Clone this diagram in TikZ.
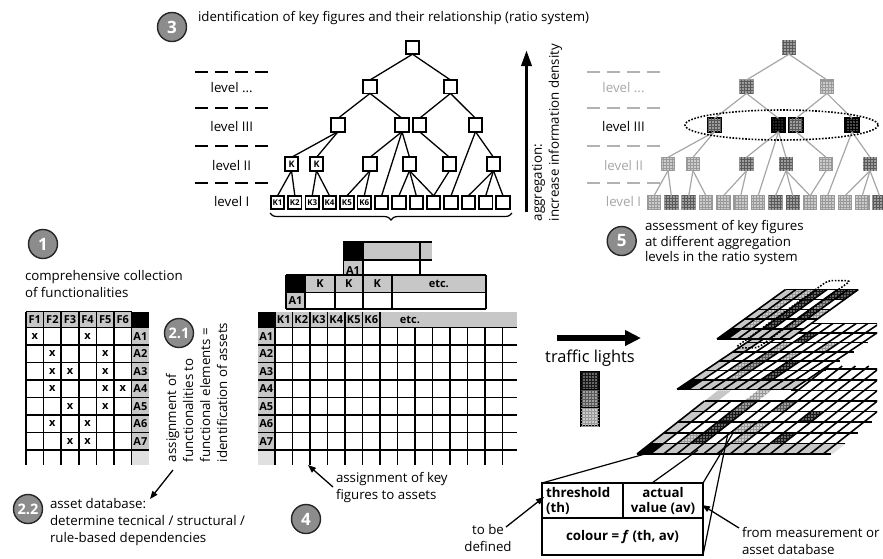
\documentclass[tikz,border=0pt]{standalone}
\usepackage{fontspec}
\setmainfont{Open Sans}
\usetikzlibrary{arrows.meta,patterns,decorations.pathreplacing}
\newcommand\gcell[3]{\fill[#3] (#1,#2) -- ++(1,0) -- ++(0,1) -- ++(-1,0) -- cycle;}
\begin{document}
\begin{tikzpicture}[x=1pt,y=-1pt,
  every node/.style={inner sep=0pt,outer sep=0pt},
  txt/.style={font=\fontsize{13.3}{17}\selectfont},
  numc/.style={circle,draw=black!85,line width=1.4pt,fill=black!45,minimum size=29pt,text=white,font=\fontsize{17}{17}\selectfont\bfseries},
  numcs/.style={numc,font=\fontsize{14.5}{14.5}\selectfont\bfseries},
  cf/.style={font=\fontsize{11}{11}\selectfont\bfseries},
  hdr/.style={fill=black!22},
  hdl/.style={fill=black!12},
  gl/.style={line width=1.6pt},
  tb/.style={draw=black,fill=white,line width=1.8pt,minimum size=13.4pt,font=\fontsize{8}{8}\selectfont\bfseries},
  te/.style={line width=1.3pt},
  rn/.style={draw=black!40,line width=1.2pt,minimum size=13.4pt},
  rk/.style={draw=black,line width=1.8pt,minimum size=13.4pt},
  re/.style={line width=1.2pt,draw=black!35},
  lvl/.style={line width=2pt,dash pattern=on 13pt off 7pt},
  lvg/.style={lvl,draw=black!30},
  arr/.style={line width=1.3pt,-{Triangle[length=8pt,width=6pt]}},
  dk/.style={fill=black!60,postaction={pattern=grid,pattern color=black!90}},
  md/.style={fill=black!38,postaction={pattern=grid,pattern color=black!65}},
  lt/.style={fill=black!20,postaction={pattern=grid,pattern color=black!40}},
  bl/.style={fill=black},
]
\useasboundingbox (0,0) rectangle (883,558);
\clip (0,0) rectangle (883,558);

% ---------------- title and left tree ----------------
\node[numc] (c3) at (172,27) {3};
\node[txt,anchor=base west] (title) at (198,21) {identification of key figures and their relationship (ratio system)};

\foreach \y in {71.7,107.7,145.7,182.7} {
  \draw[lvl] (195,\y) -- (270,\y);
  \draw[lvg] (587,\y) -- (662,\y);
}
\node[txt] (la4) at (231.7,88) {level ...};
\node[txt] (la3) at (231.7,126.5) {level III};
\node[txt] (la2) at (231.7,165.5) {level II};
\node[txt] (la1) at (231.7,202) {level I};

\node[tb] (aR) at (412.5,47.5) {};
\node[tb] (a4-0) at (370,86.7) {};
\node[tb] (a4-1) at (450.5,86.7) {};
\node[tb] (a3-0) at (338,125) {};
\node[tb] (a3-1) at (402,125) {};
\node[tb] (a3-2) at (419.5,125) {};
\node[tb] (a3-3) at (475.5,125) {};
\node[tb,font=\fontsize{9}{9}\selectfont\bfseries] (a2-0) at (291.5,164) {K};
\node[tb,font=\fontsize{9}{9}\selectfont\bfseries] (a2-1) at (316.5,164) {K};
\node[tb] (a2-2) at (370,164) {};
\node[tb] (a2-3) at (409.5,164) {};
\node[tb] (a2-4) at (449.5,164) {};
\node[tb] (a2-5) at (493.5,164) {};
\foreach \i [evaluate=\i as \j using int(\i+1)] in {0,...,5}
  \node[tb] (a1-\i) at ({277.5+17.35*\i},202.5) {K\j};
\foreach \i in {6,...,13}
  \node[tb] (a1-\i) at ({277.5+17.35*\i},202.5) {};
\foreach \p/\c in {aR/a4-0,aR/a4-1,a4-0/a3-0,a4-0/a3-1,a4-1/a3-2,a4-1/a3-3,
  a3-0/a2-0,a3-0/a2-1,a3-1/a2-2,a3-1/a1-6,a3-1/a2-3,a3-2/a2-4,a3-3/a1-10,a3-3/a2-5,
  a2-0/a1-0,a2-0/a1-1,a2-1/a1-2,a2-1/a1-3,a2-2/a1-4,a2-2/a1-5,a2-3/a1-7,a2-3/a1-8,a2-3/a1-9,
  a2-4/a1-9,a2-5/a1-11,a2-5/a1-12,a2-5/a1-13}
  \draw[te] (\p.south) -- (\c.north);

\draw[decorate,decoration={brace,mirror,amplitude=7pt},line width=1.2pt] (270,213) -- (512,213);

\coordinate (ag1) at (526.5,212);
\coordinate (ag2) at (526.5,50);
\draw[line width=3.5pt,-{Triangle[length=16pt,width=10pt]}] (ag1) -- (ag2);
\node[txt,rotate=90,anchor=north west,align=left] (agt) at (532,221) {aggregation:\\increase information density};

% ---------------- right tree ----------------
\node[txt,text=black!35] (lb4) at (623.5,88) {level ...};
\node[txt] (lb3) at (623.5,126.5) {level III};
\node[txt,text=black!35] (lb2) at (623.5,165.5) {level II};
\node[txt,text=black!35] (lb1) at (623.5,202) {level I};

\node[rn,md] (bR) at (789,47.5) {};
\node[rn,md] (b4-0) at (746.5,86.7) {};
\node[rn,lt] (b4-1) at (827,86.7) {};
\node[rk,md] (b3-0) at (714.5,125) {};
\node[rk,fill=black!85,postaction={pattern=grid,pattern color=black}] (b3-1) at (778.5,125) {};
\node[rk,md] (b3-2) at (796,125) {};
\node[rk,fill=black!70,postaction={pattern=grid,pattern color=black}] (b3-3) at (852,125) {};
\node[rn,lt] (b2-0) at (668,164) {};
\node[rn,lt] (b2-1) at (693,164) {};
\node[rn,md] (b2-2) at (746.5,164) {};
\node[rn,md] (b2-3) at (786,164) {};
\node[rn,lt] (b2-4) at (826,164) {};
\node[rn,md] (b2-5) at (870,164) {};
\foreach \i/\s in {0/lt,1/md,2/md,3/lt,4/lt,5/lt,6/lt,7/md,8/md,9/lt,10/lt,11/lt,12/lt,13/md}
  \node[rn,\s] (b1-\i) at ({654+17.35*\i},202.5) {};
\foreach \p/\c in {bR/b4-0,bR/b4-1,b4-0/b3-0,b4-0/b3-1,b4-1/b3-2,b4-1/b3-3,
  b3-0/b2-0,b3-0/b2-1,b3-1/b2-2,b3-1/b1-6,b3-1/b2-3,b3-2/b2-4,b3-3/b1-10,b3-3/b2-5,
  b2-0/b1-0,b2-0/b1-1,b2-1/b1-2,b2-1/b1-3,b2-2/b1-4,b2-2/b1-5,b2-3/b1-7,b2-3/b1-8,b2-3/b1-9,
  b2-4/b1-9,b2-5/b1-11,b2-5/b1-12,b2-5/b1-13}
  \draw[re] (\p.south) -- (\c.north);
\draw[line width=1.6pt,dash pattern=on 1.6pt off 1.6pt] (781.5,125) ellipse [x radius=96.5,y radius=15];

\node[numc] (c5) at (621.7,241) {5};
\node[txt,anchor=west,align=left,font=\fontsize{13.3}{15.5}\selectfont] (t5) at (645,243) {assessment of key figures\\at different aggregation\\levels in the ratio system};

% ---------------- left matrix ----------------
\node[numc] (c1) at (43,244) {1};
\node[txt,anchor=north west,align=left] (t1) at (25,270) {comprehensive collection\\of functionalities};

\fill[hdr] (26,311.5) rectangle (131.6,327.5);
\fill[bl] (131.6,311.5) rectangle (149.2,327.5);
\fill[hdr] (131.6,327.5) rectangle (149.2,450);
\fill[hdl] (131.6,450) rectangle (149.2,465);
\foreach \r in {0,...,7} \draw[gl] (26,{327.5+17.5*\r}) -- (149.2,{327.5+17.5*\r});
\draw[gl] (26,311.5) -- (131.6,311.5);
\foreach \k in {0,...,6} \draw[gl] ({26+17.6*\k},311.5) -- ({26+17.6*\k},465);
\foreach \i in {1,...,6} \node[cf] at ({26+17.6*(\i-0.5)},319.5) {F\i};
\foreach \r in {1,...,7} \node[cf] at (140.4,{327.5+17.5*(\r-0.5)}) {A\r};
\foreach \r/\c in {1/1,1/4,2/2,2/5,3/2,3/3,3/5,4/2,4/5,4/6,5/3,5/5,6/2,6/4,7/3,7/4}
  \node[cf] at ({26+17.6*(\c-0.5)},{327.5+17.5*(\r-0.5)}) {x};

\node[numcs] (c21) at (179,333) {2.1};
\node[txt,rotate=90,anchor=north west,align=left] (t21) at (166,462) {assignment of\\functionalities to\\functional elements =\\identification of assets};
\coordinate (a21s) at (173,470);
\coordinate (a21e) at (150,499);
\draw[arr] (a21s) -- (a21e);

\node[numcs] (c22) at (28,509) {2.2};
\node[txt,anchor=north west,align=left] (t22) at (50,498) {asset database:\\determine tecnical / structural /\\rule-based dependencies};

% ---------------- middle matrix ----------------
\fill[bl] (343.3,241.7) rectangle (362.7,260);
\fill[hdr] (362.7,241.7) rectangle (432,260);
\fill[hdr] (343.3,260) rectangle (362.7,275);
\node[cf,anchor=base] at (353,274.5) {A1};
\draw[gl] (343.3,241.7) -- (432,241.7);
\draw[gl] (343.3,260) -- (432,260);
\draw[gl] (362.7,241.7) -- (362.7,275);
\draw[gl] (420,241.7) -- (420,275);
\draw[gl] (343.3,241.7) -- (343.3,275);

\fill[white] (286,275) rectangle (486,309);
\fill[bl] (286,275) rectangle (305,292.3);
\fill[hdr] (305,275) rectangle (486,292.3);
\fill[hdr] (286,292.3) rectangle (305,309);
\foreach \y in {275,292.3,309} \draw[gl] (286,\y) -- (486,\y);
\foreach \x in {286,305,335,362.7,391.7,486} \draw[gl] (\x,275) -- (\x,309);
\node[cf] at (320,283.6) {K};
\node[cf] at (348.8,283.6) {K};
\node[cf] at (377.2,283.6) {K};
\node[cf] at (438.8,283.6) {etc.};
\node[cf] at (295.5,300.6) {A1};

\fill[bl] (257.5,311.5) rectangle (275,327.5);
\fill[hdr] (275,311.5) rectangle (517,327.5);
\fill[hdr] (257.5,327.5) rectangle (275,450);
\fill[hdl] (257.5,450) rectangle (275,465);
\foreach \r in {0,...,7} \draw[gl] (257.5,{327.5+17.5*\r}) -- (517,{327.5+17.5*\r});
\foreach \k in {0,...,6} \draw[gl] ({275+17.5*\k},311.5) -- ({275+17.5*\k},465);
\foreach \k in {7,...,13} \draw[gl] ({275+17.5*\k},327.5) -- ({275+17.5*\k},465);
\foreach \i in {1,...,6} \node[cf] at ({275+17.5*(\i-0.5)},319.5) {K\i};
\node[cf] at (410,319.5) {etc.};
\foreach \r in {1,...,7} \node[cf] at (266.25,{327.5+17.5*(\r-0.5)}) {A\r};

\node[numc] (c4) at (306,519) {4};
\node[txt,anchor=north west,align=left] (t4) at (336,472) {assignment of key\\figures to assets};
\coordinate (a4s) at (333,487);
\coordinate (a4e) at (308,465);
\draw[arr] (a4s) -- (a4e);

% ---------------- traffic lights ----------------
\coordinate (tl1) at (557,338);
\coordinate (tl2) at (641,338);
\draw[line width=6pt,-{Triangle[length=16pt,width=15pt]}] (tl1) -- (tl2);
\node[font=\fontsize{16.4}{16.4}\selectfont] (tlt) at (590,358) {traffic lights};
\draw[line width=1.5pt,dk] (581,372) rectangle (599,390);
\draw[line width=1.5pt,md] (581,390) rectangle (599,408);
\draw[line width=1.5pt,lt] (581,408) rectangle (599,426);

% ---------------- stacked grids ----------------
\begin{scope}
\clip (0,0) rectangle (877,558);
\begin{scope}[shift={(637,454)},x={(13.3pt,0pt)},y={(13.5pt,10.6pt)}]
  \gcell{0}{0}{bl}
  \foreach \c in {1,...,13} {\gcell{\c}{0}{hdr}}
  \fill[hdl] (14,0) -- (14.7,0) -- (14.7,1) -- (14,1) -- cycle;
  \foreach \r in {1,...,5} {\gcell{0}{\r}{hdr}}
  \foreach \c/\r/\s in {3/1/dk,3/2/dk,3/3/dk,3/4/md,3/5/lt,2/1/lt,6/1/lt,6/2/lt,6/4/md,9/1/dk,9/3/dk,5/2/lt} {\gcell{\c}{\r}{\s}}
  \foreach \r in {0,...,5} \draw[gl] (0,\r) -- (14.6,\r);
  \foreach \c in {0,...,14} \draw[gl] (\c,0) -- (\c,5);
  \foreach \r in {6,7,8} \draw[gl] (5.5,\r) -- (14.6,\r);
  \foreach \c in {6,...,14} \draw[gl] (\c,5) -- (\c,8.3);
\end{scope}
\begin{scope}[shift={(677,389.3)},x={(11.6pt,0pt)},y={(14pt,9.4pt)}]
  \fill[white] (0,0) -- (10,0) -- (10,7) -- (0,7) -- cycle;
  \gcell{0}{0}{bl}
  \foreach \c in {1,...,9} {\gcell{\c}{0}{hdr}}
  \foreach \r in {1,...,5} {\gcell{0}{\r}{hdr}}
  \foreach \c/\r/\s in {3/1/lt,3/2/md,3/3/md,3/4/lt,4/5/dk,2/2/lt,6/1/dk,6/2/dk,7/4/lt,5/3/lt} {\gcell{\c}{\r}{\s}}
  \foreach \r in {0,...,7} \draw[gl] (0,\r) -- (10.4,\r);
  \foreach \c in {0,...,10} \draw[gl] (\c,0) -- (\c,7);
\end{scope}
\begin{scope}[shift={(717,339)},x={(10.4pt,0pt)},y={(13.7pt,9.9pt)}]
  \fill[white] (0,0) -- (7,0) -- (7,5) -- (0,5) -- cycle;
  \gcell{0}{0}{bl}
  \foreach \c in {1,...,6} {\gcell{\c}{0}{hdr}}
  \foreach \r in {1,...,4} {\gcell{0}{\r}{hdr}}
  \foreach \c/\r/\s in {1/1/lt,1/2/lt,1/3/lt,1/4/lt,2/2/lt,2/4/lt,3/1/dk,3/2/dk,3/3/dk,3/4/dk,5/1/md,5/2/dk,5/3/md,5/4/dk,6/4/dk,6/2/lt} {\gcell{\c}{\r}{\s}}
  \foreach \r in {0,...,5} \draw[gl] (0,\r) -- (7,\r);
  \foreach \c in {0,...,7} \draw[gl] (\c,0) -- (\c,5);
  \draw[line width=1.6pt,dash pattern=on 1.6pt off 1.6pt,rounded corners=4pt] (2.9,-0.9) -- (5.1,-0.9) -- (5.1,5.9) -- (2.9,5.9) -- cycle;
\end{scope}
\end{scope}

% ---------------- bottom table ----------------
\coordinate (tTL) at (542,483);
\coordinate (tTM) at (652,483);
\coordinate (tTR) at (703,483);
\coordinate (tBR) at (703,555);
\coordinate (g1) at (652,452);
\coordinate (g2) at (698,450);
\coordinate (g3) at (733,433);
\coordinate (g4) at (728,433);
\draw[line width=1.2pt] (tTL) -- (g1);
\draw[line width=1.2pt] (tTM) -- (g2);
\draw[line width=1.2pt] (tTR) -- (g3);
\draw[line width=1.2pt] (tBR) -- (g4);
\fill[white] (tTL) rectangle (tBR);
\draw[line width=1.8pt] (tTL) rectangle (tBR);
\draw[line width=1.8pt] (542,518) -- (703,518);
\draw[line width=1.8pt] (623,483) -- (623,518);
\node[font=\fontsize{13.3}{15}\selectfont\bfseries,anchor=north west,align=left] (th) at (546,487) {threshold\\(th)};
\node[font=\fontsize{13.3}{15}\selectfont\bfseries,align=center] (av) at (663,500.5) {actual\\value (av)};
\node[font=\fontsize{13.3}{15}\selectfont\bfseries] (col) at (622.5,537) {colour = \textit{f} (th, av)};

\node[txt,align=center] (tbd) at (488,538) {to be\\defined};
\coordinate (tb1) at (506,527);
\coordinate (tb2) at (544,497);
\draw[arr] (tb1) -- (tb2);
\node[txt,anchor=west,align=left] (fm) at (742,541) {from measurement or\\asset database};
\coordinate (fm1) at (739,528);
\coordinate (fm2) at (702,505);
\draw[arr] (fm1) -- (fm2);
\end{tikzpicture}
\end{document}
